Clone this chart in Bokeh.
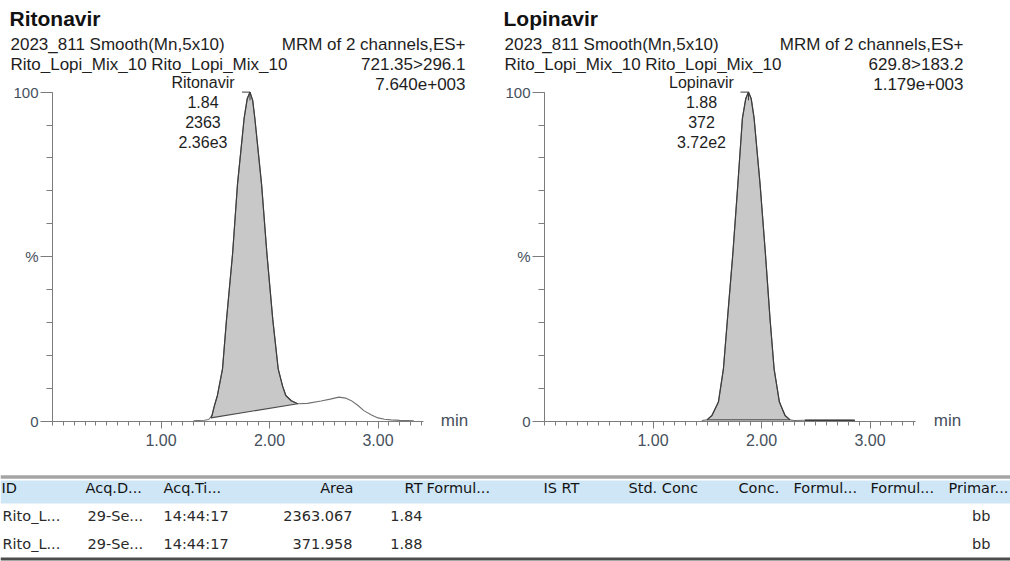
import numpy as np
from bokeh.plotting import figure
from bokeh.models import Range1d, FixedTicker, Label, ColumnDataSource, LinearAxis
from bokeh.layouts import column, row
from bokeh.embed import file_html
from bokeh.resources import INLINE
from bokeh.core.properties import value

# ---------------- data ----------------
RITO_TIME = [1.30, 1.336, 1.40, 1.44, 1.47, 1.49, 1.52, 1.567, 1.604, 1.66,
             1.705, 1.766, 1.795, 1.82, 1.845, 1.865, 1.927, 1.976, 2.03, 2.08,
             2.12, 2.15, 2.20, 2.26, 2.35, 2.475, 2.56, 2.64, 2.70, 2.75,
             2.81, 2.87, 2.94, 3.00, 3.06, 3.12, 3.20, 3.27, 3.33]
RITO_PCT = [0.2, 0.3, 0.4, 0.6, 1.8, 4.5, 7.9, 16, 31, 51,
            72, 92, 98, 100, 97.5, 92, 72, 51, 31, 16,
            10.8, 7.9, 6.3, 5.4, 5.5, 6.2, 6.8, 7.4, 7.1, 6.4,
            5.0, 3.3, 2.0, 1.1, 0.7, 0.5, 0.35, 0.3, 0.25]
RITO_BASE_TIME = [1.46, 2.26]
RITO_BASE_PCT = [1.1, 5.4]

LOPI_TIME = [1.45, 1.497, 1.543, 1.603, 1.649, 1.686, 1.736, 1.782, 1.824, 1.855,
             1.88, 1.905, 1.932, 1.987, 2.036, 2.079, 2.116, 2.165, 2.217, 2.263,
             2.30, 2.40, 2.50, 2.60, 2.70, 2.80, 2.86]
LOPI_PCT = [0.3, 0.5, 1.8, 5.9, 16, 31, 51, 72, 92, 98,
            100, 98, 92, 72, 51, 31, 16, 5.9, 1.8, 0.5,
            0.3, 0.4, 0.4, 0.4, 0.4, 0.4, 0.3]
LOPI_BASE_TIME = [1.497, 2.263]
LOPI_BASE_PCT = [0.5, 0.5]
LOPI_EXTRA_TIME = [2.40, 2.86]
LOPI_EXTRA_PCT = [0.4, 0.4]

COMPOUNDS = ["Ritonavir", "Lopinavir"]
HEADER_LINE1 = ["2023_811 Smooth(Mn,5x10)", "2023_811 Smooth(Mn,5x10)"]
HEADER_LINE2 = ["Rito_Lopi_Mix_10 Rito_Lopi_Mix_10", "Rito_Lopi_Mix_10 Rito_Lopi_Mix_10"]
SCAN_INFO = ["MRM of 2 channels,ES+", "MRM of 2 channels,ES+"]
TRANSITIONS = ["721.35>296.1", "629.8>183.2"]
INTENSITY = ["7.640e+003", "1.179e+003"]
PEAK_RT = ["1.84", "1.88"]
PEAK_AREA = ["2363", "372"]
PEAK_HEIGHT = ["2.36e3", "3.72e2"]

X_TICKS = [1, 2, 3]
X_TICK_LABELS = ["1.00", "2.00", "3.00"]
Y_TICKS = [0, 50, 100]
Y_TICK_LABELS = ["0", "%", "100"]
X_UNIT = "min"
X_AXIS_END = 3.42

TABLE_HEADERS = ["ID", "Acq.D...", "Acq.Ti...", "Area", "RT", "Formul...", "IS RT",
                 "Std. Conc", "Conc.", "Formul...", "Formul...", "Primar..."]
ROW_ID = ["Rito_L...", "Rito_L..."]
ROW_DATE = ["29-Se...", "29-Se..."]
ROW_TIME = ["14:44:17", "14:44:17"]
ROW_AREA = [2363.067, 371.958]
ROW_RT = [1.84, 1.88]
ROW_PRIMARY = ["bb", "bb"]

# ---------------- style ----------------
FONT = "Liberation Sans"
TEXT = "#1e1e1e"
TICK_TEXT = "#46505c"
AXIS_COLOR = "#7c7c7c"
FILL = "#c8c8c8"
PPM = 108.5          # px per minute
Y0_PX = 421.0        # page y of 0 %
Y100_PX = 91.6       # page y of 100 %
PPP = (Y0_PX - Y100_PX) / 100.0
HEAD_H = 73          # header strip height
CHART_H = 470 - HEAD_H
RIGHT_BORDER = 6
UNIT_STANDOFF = -38


def make_header(i, fig_w):
    lx = 10 if i == 0 else 6
    h = figure(width=fig_w, height=HEAD_H, x_range=Range1d(0, fig_w), y_range=Range1d(HEAD_H, 0),
               output_backend="svg", toolbar_location=None, min_border=0,
               x_axis_type=None, y_axis_type=None)
    h.outline_line_color = None
    h.grid.visible = False
    h.text(x=[lx - 1], y=[17.5], text=[COMPOUNDS[i]], text_font=value(FONT),
           text_font_size=value("21px"), text_font_style="bold", text_color="#111111",
           text_baseline="middle", text_align="left")
    h.text(x=[lx, lx], y=[44, 64], text=[HEADER_LINE1[i], HEADER_LINE2[i]], text_font=value(FONT),
           text_font_size=value("17px"), text_color=TEXT, text_baseline="middle", text_align="left")
    h.text(x=[465, 465], y=[44, 64], text=[SCAN_INFO[i], TRANSITIONS[i]],
           text_font=value(FONT), text_font_size=value("17px"), text_color=TEXT,
           text_baseline="middle", text_align="right")
    return h


def make_chart(i, t, yv, bt, bv, fig_w, origin, unit_center_px, extra=None):
    frame_right = fig_w - RIGHT_BORDER
    y_end = (Y0_PX - HEAD_H) / PPP
    x_end = (frame_right - origin) / PPM
    p = figure(width=fig_w, height=CHART_H, x_range=Range1d(0, x_end), y_range=Range1d(0, y_end),
               output_backend="svg", toolbar_location=None,
               min_border_left=origin, min_border_right=RIGHT_BORDER,
               min_border_top=0, min_border_bottom=int(470 - Y0_PX))
    p.outline_line_color = None
    p.grid.visible = False

    def sx(px):
        return (px - origin) / PPM

    def sy(py):
        return (Y0_PX - py) / PPP

    t = np.asarray(t, float)
    yv = np.asarray(yv, float)
    m = (t > bt[0]) & (t < bt[1])
    px = [bt[0]] + list(t[m]) + [bt[1]]
    py = [bv[0]] + list(yv[m]) + [bv[1]]
    p.patch(px, py, fill_color=FILL, line_color=None)
    p.line(bt, bv, line_color="#4a4a4a", line_width=1.1)
    p.line(t, yv, line_color="#707070", line_width=1.1)
    p.line(px, py, line_color="#3c3c3c", line_width=1.2)
    if extra is not None:
        p.line(extra[0], extra[1], line_color="#3c3c3c", line_width=1.6)

    k = int(np.argmax(yv))
    pk = t[k]
    p.line([pk - 8 / PPM, pk, pk], [yv[k], yv[k], yv[k] - 2.5],
           line_color="#3c3c3c", line_width=1)

    xa = p.xaxis[0]
    xa.ticker = FixedTicker(ticks=X_TICKS, minor_ticks=[k2 / 10 for k2 in range(0, 35)])
    xa.major_label_overrides = dict(zip(X_TICKS, X_TICK_LABELS))
    xa.bounds = (0, X_AXIS_END)
    ya = p.yaxis[0]
    ya.ticker = FixedTicker(ticks=Y_TICKS, minor_ticks=list(range(0, 101, 10)))
    ya.major_label_overrides = dict(zip(Y_TICKS, Y_TICK_LABELS))
    ya.bounds = (0, 100)
    for ax in (xa, ya):
        ax.axis_line_color = AXIS_COLOR
        ax.major_tick_line_color = AXIS_COLOR
        ax.minor_tick_line_color = AXIS_COLOR
        ax.major_tick_in = 0
        ax.minor_tick_in = 0
        ax.major_label_text_font = FONT
        ax.major_label_text_color = TICK_TEXT
    xa.major_tick_out = 7
    xa.minor_tick_out = 4
    xa.major_label_standoff = 5
    xa.major_label_text_font_size = "16px"
    ya.major_tick_out = 12
    ya.minor_tick_out = 6
    ya.major_label_standoff = 2
    ya.major_label_text_font_size = "15px"

    # unit label: a second bottom axis with one labelled tick, pulled up to the axis line
    ut = sx(unit_center_px)
    ua = LinearAxis(ticker=FixedTicker(ticks=[ut]), major_label_overrides={ut: X_UNIT})
    ua.axis_line_color = None
    ua.major_tick_line_color = None
    ua.minor_tick_line_color = None
    ua.major_tick_in = 0
    ua.major_tick_out = 0
    ua.major_label_standoff = UNIT_STANDOFF
    ua.major_label_text_font = FONT
    ua.major_label_text_font_size = "17px"
    ua.major_label_text_color = TICK_TEXT
    p.add_layout(ua, "below")

    p.add_layout(Label(x=sx(465), y=sy(83), text=INTENSITY[i], text_font=FONT, text_font_size="17px",
                       text_color=TEXT, text_baseline="middle", text_align="right"))
    cx = pk - 47 / PPM
    for txt, yy in ((COMPOUNDS[i], 82), (PEAK_RT[i], 101), (PEAK_AREA[i], 121), (PEAK_HEIGHT[i], 141)):
        p.add_layout(Label(x=cx, y=sy(yy), text=txt, text_font=FONT, text_font_size="16px",
                           text_color=TEXT, text_baseline="middle", text_align="center"))
    return p


h1 = make_header(0, 498)
h2 = make_header(1, 512)
p1 = make_chart(0, RITO_TIME, RITO_PCT, RITO_BASE_TIME, RITO_BASE_PCT, 498, 52, 454)
p2 = make_chart(1, LOPI_TIME, LOPI_PCT, LOPI_BASE_TIME, LOPI_BASE_PCT, 512, 46, 449,
                extra=(LOPI_EXTRA_TIME, LOPI_EXTRA_PCT))

# ---------------- table ----------------
TW, TH = 1010, 91
pt = figure(width=TW, height=TH, x_range=Range1d(0, TW), y_range=Range1d(TH, 0),
            output_backend="svg", toolbar_location=None, min_border=0,
            x_axis_type=None, y_axis_type=None)
pt.outline_line_color = None
pt.grid.visible = False
pt.quad(left=[0], right=[TW], top=[10], bottom=[33], fill_color="#cfe6f7", line_color=None)
pt.line([0, TW], [6.5, 6.5], line_color="#a4a4a4", line_width=3.5)
pt.line([0, TW], [88.5, 88.5], line_color="#4c4c4c", line_width=3)

HEAD_X = [1, 85, 163, 353, 422, 426, 543, 628, 738, 793, 870, 948]
HEAD_AL = ["left", "left", "left", "right", "right", "left", "left", "left", "left", "left", "left", "left"]
CELL_X = [2, 87, 163, 352, 422, 426, 543, 628, 738, 793, 870, 990]
CELL_AL = ["left", "left", "left", "right", "right", "left", "left", "left", "left", "left", "left", "right"]
ROW_Y = [45, 73]

texts = {"left": dict(x=[], y=[], t=[], c=[]), "right": dict(x=[], y=[], t=[], c=[])}
for hd, x, a in zip(TABLE_HEADERS, HEAD_X, HEAD_AL):
    d = texts[a]
    d["x"].append(x); d["y"].append(17); d["t"].append(hd); d["c"].append("#141414")
for r in range(len(ROW_ID)):
    cells = [ROW_ID[r], ROW_DATE[r], ROW_TIME[r], f"{ROW_AREA[r]:.3f}", f"{ROW_RT[r]:.2f}",
             "", "", "", "", "", "", ROW_PRIMARY[r]]
    for v, x, a in zip(cells, CELL_X, CELL_AL):
        if v == "":
            continue
        d = texts[a]
        d["x"].append(x); d["y"].append(ROW_Y[r]); d["t"].append(v); d["c"].append("#2a2a2a")
for a, d in texts.items():
    src = ColumnDataSource(dict(x=d["x"], y=d["y"], t=d["t"], c=d["c"]))
    pt.text(x="x", y="y", text="t", source=src, text_color="c", text_align=a,
            text_baseline="middle", text_font=value("DejaVu Sans"), text_font_size=value("14.5px"))

layout = column(row(h1, h2), row(p1, p2), pt)
open("out.html", "w").write(file_html(layout, INLINE))
